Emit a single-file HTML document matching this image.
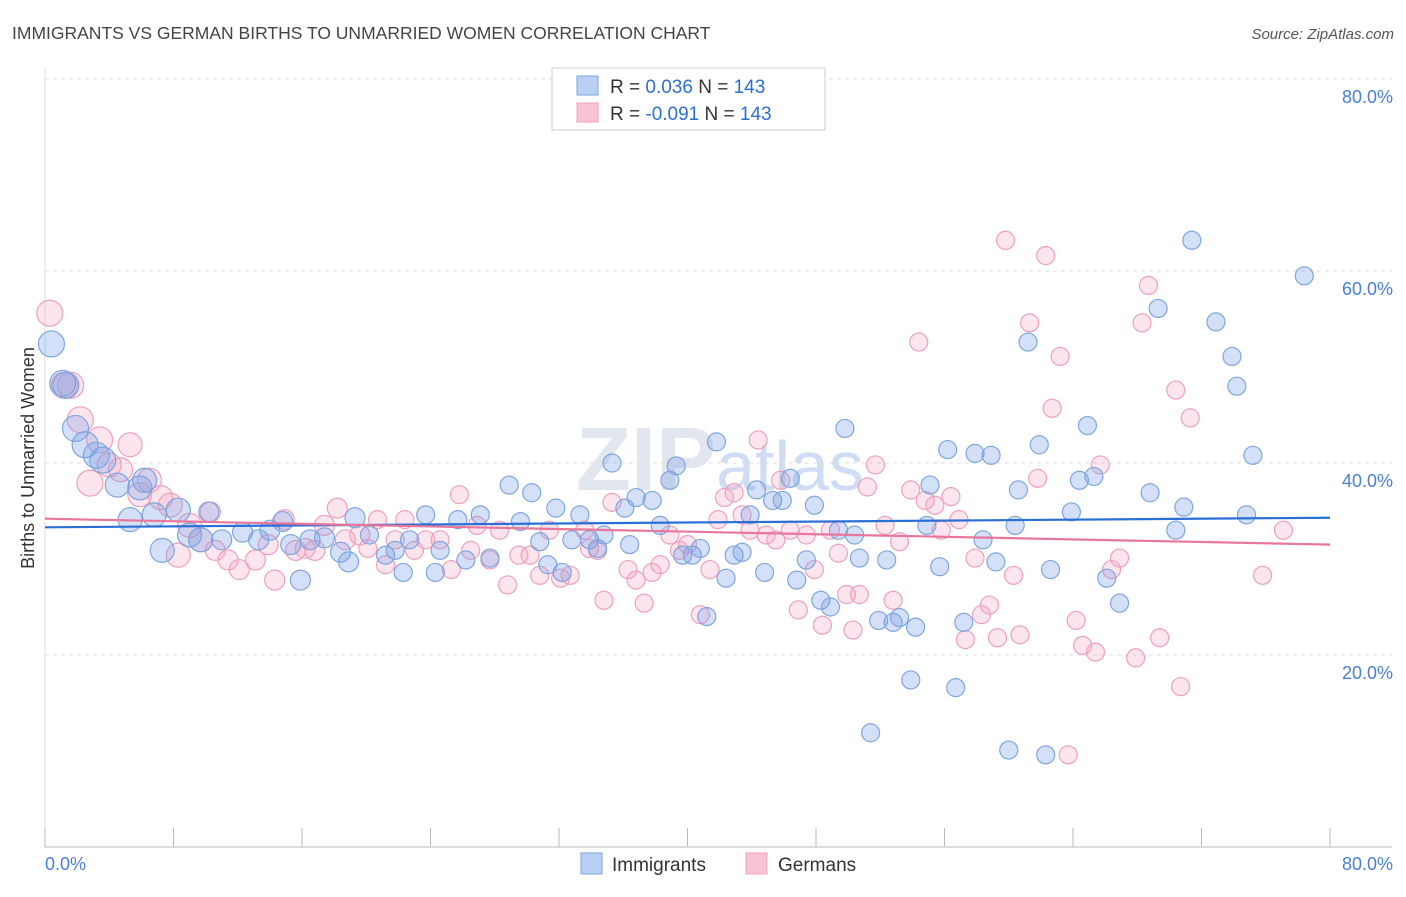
<!DOCTYPE html>
<html><head><meta charset="utf-8"><style>
body{margin:0;background:#fff;font-family:"Liberation Sans",sans-serif;}
svg text{font-family:"Liberation Sans",sans-serif;}
</style></head><body>
<svg id="chart" width="1406" height="892" xmlns="http://www.w3.org/2000/svg">
<text x="12" y="39" font-size="17.5" fill="#444">IMMIGRANTS VS GERMAN BIRTHS TO UNMARRIED WOMEN CORRELATION CHART</text>
<text x="1394" y="39" font-size="15" fill="#555" text-anchor="end" font-style="italic">Source: ZipAtlas.com</text>
<text x="720" y="490" font-size="90" fill="#e2e6ee" text-anchor="middle" font-family="Liberation Serif" font-weight="bold">ZIP<tspan fill="#cfdcf3" font-family="Liberation Sans" font-weight="normal" font-size="70">atlas</tspan></text>
<g id="grid"></g>
<g id="axes"></g>
<g id="pts"></g>
<g id="lines"></g>
<text transform="translate(34,458) rotate(-90)" font-size="18" fill="#333" text-anchor="middle">Births to Unmarried Women</text>
<g>
<rect x="552" y="68" width="273" height="62" fill="#fff" stroke="#ccc"/>
<rect x="577" y="76" width="21" height="19" fill="#b9cff3" stroke="#7ea6e0"/>
<rect x="577" y="103" width="21" height="19" fill="#f8c4d4" stroke="#f0a0bc"/>
<text x="610" y="93" font-size="19" fill="#333">R = <tspan fill="#2b6fd6"> 0.036</tspan>   N = <tspan fill="#2b6fd6">143</tspan></text>
<text x="610" y="120" font-size="19" fill="#333">R = <tspan fill="#2b6fd6">-0.091</tspan>   N = <tspan fill="#2b6fd6">143</tspan></text>
</g>
<g>
<rect x="581" y="853" width="21" height="21" fill="#b9cff3" stroke="#7ea6e0"/>
<text x="612" y="871" font-size="19" fill="#333">Immigrants</text>
<rect x="746" y="853" width="21" height="21" fill="#f8c4d4" stroke="#f0a0bc"/>
<text x="778" y="871" font-size="19" fill="#333">Germans</text>
</g>
</svg>
<script>
const yTicks=[20,40,60,80];
const yTickLabels=["20.0%","40.0%","60.0%","80.0%"];
const xTicks=[0,8,16,24,32,40,48,56,64,72,80];
const blueX=[0.4,1.1,1.3,1.9,2.5,3.2,3.6,4.5,5.3,6.2,5.9,6.8,7.3,8.3,9.0,10.2,9.7,11.0,12.3,13.3,14.0,14.8,15.3,15.9,16.5,17.4,18.4,18.9,19.3,20.2,21.2,21.8,22.3,22.7,23.7,24.3,24.6,25.7,26.2,27.1,27.7,28.9,29.6,30.3,30.8,31.3,31.8,32.2,32.8,33.3,33.9,34.4,35.3,34.8,36.1,36.4,36.8,37.8,38.3,38.9,39.3,39.7,40.3,40.8,41.2,41.8,42.4,42.9,43.4,43.9,44.3,44.8,45.3,45.9,46.4,46.8,47.4,47.9,48.3,48.9,49.4,49.8,50.4,50.7,51.4,51.9,52.4,52.8,53.2,53.9,54.2,54.9,55.1,55.7,56.2,56.7,57.2,57.9,58.4,58.9,59.2,60.0,60.4,60.6,61.2,61.9,62.3,62.6,63.9,64.4,64.9,65.3,66.1,66.9,68.8,69.3,70.4,70.9,71.4,72.9,73.9,74.2,74.8,75.2,78.4];
const blueY=[52.4,48.3,48.1,43.6,41.9,40.8,40.3,37.7,34.1,38.2,37.4,34.6,30.9,35.1,32.5,34.9,32.0,32.0,32.8,32.0,33.0,33.9,31.5,27.8,32.0,32.2,30.7,29.7,34.3,32.5,30.4,30.9,28.6,32.0,34.6,28.6,30.9,34.1,29.9,34.6,30.1,37.7,33.9,36.9,31.8,29.4,35.3,28.6,32.0,34.6,32.0,31.1,40.0,32.5,35.3,31.5,36.4,36.1,33.5,38.2,39.7,30.4,30.4,31.1,24.0,42.2,28.0,30.4,30.7,34.6,37.2,28.6,36.1,36.1,38.4,27.8,29.9,35.6,25.7,25.0,33.0,43.6,32.5,30.1,11.9,23.6,29.9,23.4,23.9,17.4,22.9,33.5,37.7,29.2,41.4,16.6,23.4,41.0,32.0,40.8,29.7,10.1,33.5,37.2,52.6,41.9,9.6,28.9,34.9,38.2,43.9,38.6,28.0,25.4,36.9,56.1,33.0,35.4,63.2,54.7,51.1,48.0,34.6,40.8,59.5];
const pinkX=[0.3,1.2,1.6,2.2,2.8,3.4,4.0,4.7,5.3,5.9,6.5,7.2,7.8,8.3,9.0,9.7,10.3,10.6,11.4,12.1,13.1,13.9,14.3,14.9,15.6,16.2,16.8,17.4,18.2,18.7,19.6,20.1,20.7,21.2,21.8,22.4,23.0,23.7,24.6,25.3,25.8,26.5,26.9,27.7,28.3,28.8,29.5,30.2,30.8,31.4,32.1,32.7,33.6,33.9,34.4,34.8,35.3,36.3,36.8,37.3,37.8,38.3,38.9,39.5,40.0,40.8,41.4,41.9,42.3,42.9,43.4,43.9,44.4,44.9,45.5,45.8,46.4,46.9,47.4,47.9,48.4,48.9,49.4,49.9,50.3,50.7,51.2,51.7,52.3,52.8,53.2,53.9,54.4,54.8,55.4,55.8,56.4,56.9,57.3,57.9,58.3,58.8,59.3,59.8,60.3,60.7,61.3,61.8,62.3,62.7,63.2,63.7,64.2,64.6,65.4,65.7,66.4,66.9,67.9,68.3,68.7,69.4,70.4,70.7,71.3,75.8,77.1];
const pinkY=[55.6,48.1,48.1,44.5,37.9,42.4,39.8,39.3,41.9,36.7,38.2,36.4,35.6,30.4,33.5,32.0,34.9,30.9,29.9,28.9,29.9,31.5,27.8,34.1,30.9,31.1,30.9,33.5,35.3,32.0,32.5,31.1,34.1,29.4,32.0,34.1,30.9,32.0,32.0,28.9,36.7,30.9,33.5,29.9,33.0,27.3,30.4,30.4,28.3,33.0,28.0,28.3,33.0,31.1,30.9,25.7,35.9,28.9,27.8,25.4,28.6,29.4,32.5,30.9,31.5,24.2,28.9,34.1,36.4,36.9,34.6,33.0,42.4,32.5,32.0,38.2,33.0,24.7,32.5,28.9,23.1,33.0,30.6,26.3,22.6,26.3,37.5,39.8,33.5,25.7,31.8,37.2,52.6,36.1,35.6,33.0,36.5,34.1,21.6,30.1,24.2,25.2,21.8,63.2,28.3,22.1,54.6,38.4,61.6,45.7,51.1,9.6,23.6,21.0,20.3,39.8,28.9,30.1,19.7,54.6,58.5,21.8,47.6,16.7,44.7,28.3,33.0];
const blueLine=[33.3,34.3];
const pinkLine=[34.2,31.5];
const NS="http://www.w3.org/2000/svg";
const X=v=>45+v*(1285/80), Y=v=>847-v*9.6;
function mk(tag,attrs,parent){const e=document.createElementNS(NS,tag);for(const k in attrs)e.setAttribute(k,attrs[k]);parent.appendChild(e);return e;}
const grid=document.getElementById('grid'),axes=document.getElementById('axes'),pts=document.getElementById('pts'),lines=document.getElementById('lines');
yTicks.forEach((t,i)=>{
 const l=mk('line',{x1:45,x2:1392,y1:Y(t),y2:Y(t),stroke:'#ddd','stroke-dasharray':'4,4'},grid);
 
 
 const tx=mk('text',{x:1393,y:Y(t)+24,'font-size':18,fill:'#4a7fd6','text-anchor':'end'},axes);
 tx.textContent=yTickLabels[i];
 
 
});
const ax=mk('line',{x1:45,x2:1392,y1:847,y2:847,stroke:'#bbb'},axes);


const ay=mk('line',{x1:45,x2:45,y1:68,y2:847,stroke:'#ddd'},axes);


xTicks.forEach(t=>{
 const l=mk('line',{x1:X(t),x2:X(t),y1:828,y2:847,stroke:'#bbb'},axes);
 
 
});
const xl0=mk('text',{x:45,y:870,'font-size':18,fill:'#4a7fd6'},axes);xl0.textContent='0.0%';


const xl1=mk('text',{x:1393,y:870,'font-size':18,fill:'#4a7fd6','text-anchor':'end'},axes);xl1.textContent='80.0%';


function rad(x){return x<4?13:x<10?12:x<20?10:9;}
pinkX.forEach((x,i)=>{
 const c=mk('circle',{cx:X(x),cy:Y(pinkY[i]),r:rad(x),fill:'rgba(244,160,190,0.28)',stroke:'#f0a0bc','stroke-width':1.2},pts);
 
 
});
blueX.forEach((x,i)=>{
 const c=mk('circle',{cx:X(x),cy:Y(blueY[i]),r:rad(x),fill:'rgba(120,160,230,0.32)',stroke:'#7ea6e0','stroke-width':1.2},pts);
 
 
});
const bl=mk('line',{x1:X(0),x2:X(80),y1:Y(blueLine[0]),y2:Y(blueLine[1]),stroke:'#2b6fd6','stroke-width':2.2},lines);


const pl=mk('line',{x1:X(0),x2:X(80),y1:Y(pinkLine[0]),y2:Y(pinkLine[1]),stroke:'#e8779b','stroke-width':2.2},lines);


</script>
</body></html>
